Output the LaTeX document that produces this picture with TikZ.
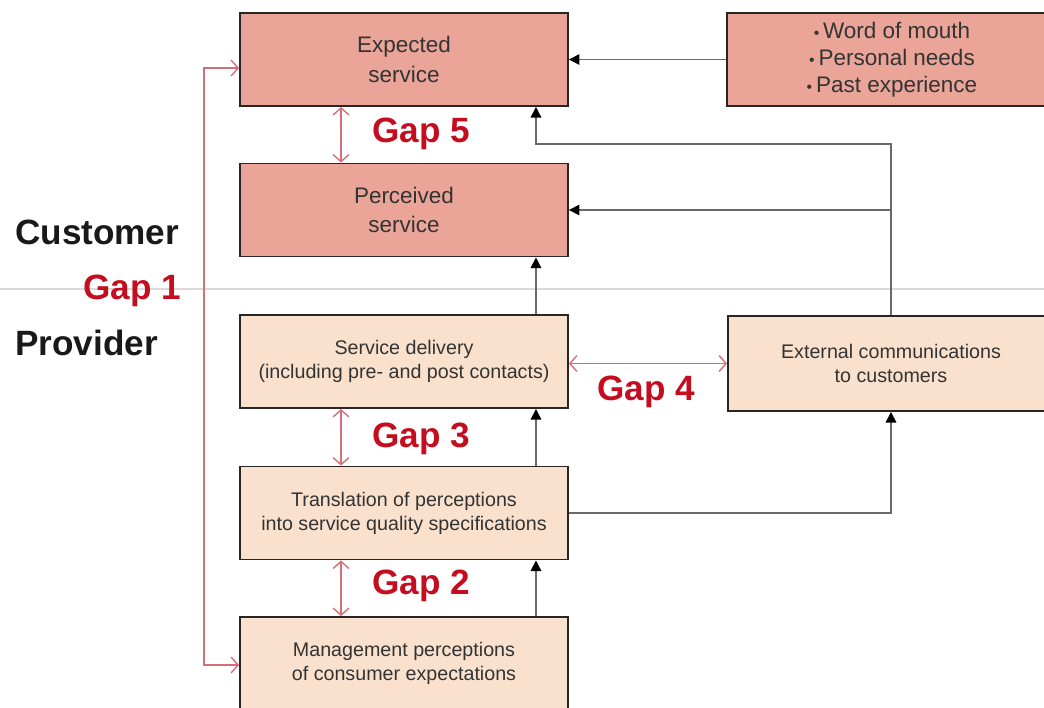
\documentclass[tikz,border=0pt]{standalone}
\usepackage{fontspec}
\setmainfont{Liberation Sans}
\usetikzlibrary{arrows.meta,positioning}
\definecolor{boxpink}{RGB}{234,165,152}
\definecolor{boxbeige}{RGB}{249,225,205}
\definecolor{gapred}{RGB}{196,14,32}
\definecolor{gapline}{RGB}{214,110,120}
\definecolor{flowgrey}{RGB}{105,105,105}

\begin{document}
\begin{tikzpicture}[x=0.02cm,y=-0.02cm,
  box/.style={draw=black!85,line width=1.1pt,minimum width=6.56cm,minimum height=1.86cm,align=center,text=black!80},
  custbox/.style={box,fill=boxpink,font=\fontsize{12.8}{17}\selectfont},
  provbox/.style={box,fill=boxbeige,font=\fontsize{11.2}{13.6}\selectfont},
  gaplabel/.style={text=gapred,font=\bfseries\fontsize{20}{24}\selectfont},
  side/.style={text=black!90,font=\bfseries\fontsize{20}{24}\selectfont},
  flow/.style={draw=flowgrey,line width=0.8pt,-{Triangle[color=black,length=6pt,width=6pt]}},
  gap/.style={draw=gapline,line width=0.8pt,{Straight Barb[length=4pt,width=9pt]}-{Straight Barb[length=4pt,width=9pt]}}]
\useasboundingbox (0,0) rectangle (1044,707);
\draw[black!15,line width=0.8pt] (0,289) -- (1044,289);

% customer side
\node[custbox] (exp) at (404,59.5) {Expected\\service};
\node[custbox] (perc) at (404,210) {Perceived\\service};
\node[custbox,minimum width=6.6cm,font=\fontsize{12.8}{15.2}\selectfont] (wom) at (892,59.5) {{\small•}\,Word of mouth\\{\small•}\,Personal needs\\{\small•}\,Past experience};

% provider side
\node[provbox] (deliv) at (404,361.5) {Service delivery\\(including pre- and post contacts)};
\node[provbox,minimum width=6.52cm,minimum height=1.9cm] (ext) at (891,363.5) {External communications\\to customers};
\node[provbox] (trans) at (404,513) {Translation of perceptions\\into service quality specifications};
\node[provbox] (mgmt) at (404,663.5) {Management perceptions\\of consumer expectations};

\node[side,anchor=west] (cust) at (9,232) {Customer};
\node[side,anchor=west] (prov) at (9,343) {Provider};

% flows
\draw[flow] (wom.west) -- (exp.east);
\draw[flow] (ext.north) -- ++(0,-171) -| ([xshift=2.64cm]exp.south);
\draw[flow] (ext.north |- perc.east) -- (perc.east);
\draw[flow] ([xshift=2.64cm]deliv.north) -- ([xshift=2.64cm]perc.south);
\draw[flow] ([xshift=2.64cm]trans.north) -- ([xshift=2.64cm]deliv.south);
\draw[flow] ([xshift=2.64cm]mgmt.north) -- ([xshift=2.64cm]trans.south);
\draw[flow] (trans.east) -| (ext.south);

% gaps
\draw[gap] ([yshift=-0.17cm]exp.west) -- ++(-35,0) |- ([yshift=-0.03cm]mgmt.west);
\draw[gap] ([xshift=-1.26cm]exp.south) -- ([xshift=-1.26cm]perc.north);
\draw[gap] ([xshift=-1.26cm]deliv.south) -- ([xshift=-1.26cm]trans.north);
\draw[gap] ([xshift=-1.26cm]trans.south) -- ([xshift=-1.26cm]mgmt.north);
\draw[gap] (deliv.east |- ext.west) -- (ext.west);

\node[gaplabel,anchor=east] (g1) at (187,291) {Gap 1};
\node[gaplabel,anchor=west] (g5) at (366,134) {Gap 5};
\node[gaplabel,anchor=west] (g4) at (591,392) {Gap 4};
\node[gaplabel,anchor=west] (g3) at (366,439) {Gap 3};
\node[gaplabel,anchor=west] (g2) at (366,586) {Gap 2};
\end{tikzpicture}
\end{document}
